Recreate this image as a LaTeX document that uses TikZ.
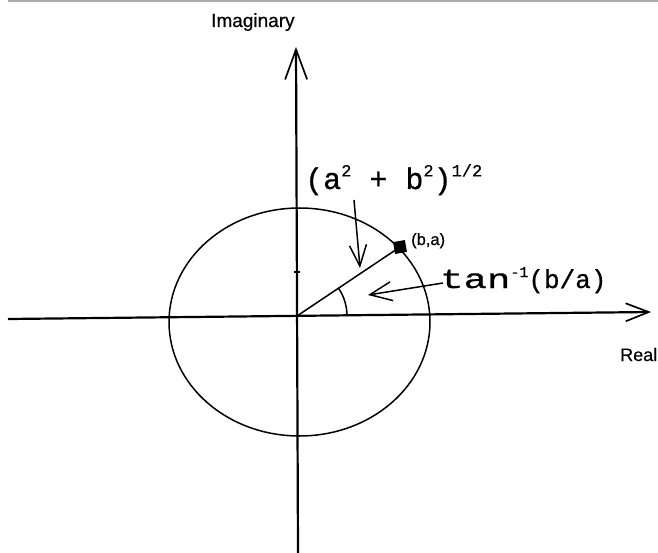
\documentclass[tikz,border=0pt]{standalone}
\usepackage{fontspec}
\setmainfont{Liberation Sans}
\newfontfamily\monofont[FakeBold=0.7]{Liberation Mono}
\newfontfamily\pixsans[FakeBold=0.5]{Liberation Sans}
\usetikzlibrary{arrows.meta}
\newcommand\supx[2][17]{\raisebox{0.42em}{\fontsize{#1}{#1}\selectfont #2}}
\begin{document}
\begin{tikzpicture}[x=1pt,y=-1pt,
  axisline/.style={line width=2.2pt},
  thinline/.style={line width=1.5pt},
  sanslabel/.style={inner sep=0pt, anchor=base west},
  monolabel/.style={inner sep=0pt, anchor=base west}]
\useasboundingbox (0,0) rectangle (658,553);
\fill[white] (0,0) rectangle (658,553);
% top border line
\draw[gray!65, line width=2pt] (8,1) -- (658,1);
% coordinates
\coordinate (O) at (297,316);
\coordinate (xl) at (8,319);
\coordinate (xr) at (651,312);
\coordinate (yb) at (298,553);
\coordinate (yt) at (296,47);
\coordinate (C) at (299.5,322);
% axes
\draw[axisline, -{Straight Barb[length=23pt,width=18pt,line width=1.7pt]}] (xl) -- (xr);
\draw[axisline, -{Straight Barb[length=30pt,width=22pt,line width=1.7pt]}] (yb) -- (yt);
% tick
\draw[line width=1.5pt] (294,272) -- (300,272);
% circle
\draw[thinline] (C) ellipse [x radius=130.5, y radius=114];
% point
\node[fill=black, minimum size=12pt, inner sep=0pt, rotate=10] (pt) at (400,247) {};
% radius
\draw[thinline] (O) -- (pt.center);
% angle arc
\draw[thinline] ([shift={(0:50)}]O) arc [start angle=0, end angle=-33.8, radius=50];
% labels
\node[sanslabel, font=\pixsans\fontsize{19}{19}\selectfont] (imlabel) at (211,27) {Imaginary};
\node[sanslabel, font=\pixsans\fontsize{18}{18}\selectfont] (relabel) at (620,361) {Real};
\node[sanslabel, font=\pixsans\fontsize{16.5}{16.5}\selectfont] (ptlabel) at (411,245) {(b,a)};
\node[monolabel, font=\monofont\fontsize{30}{30}\selectfont] (modlabel) at (305,189) {(a\supx{2} + b\supx{2})\supx{1/2}};
\node[monolabel, font=\monofont\fontsize{26}{26}\selectfont] (tanlabel) at (440,288) {\scalebox{1.5}[1.05]{tan}\supx[15]{-1}(b/a)};
% pointer arrows
\coordinate (m0) at (354,200);
\coordinate (mtip) at (360,268);
\coordinate (t0) at (443,283);
\coordinate (ttip) at (368,295);
\draw[thinline, -{Straight Barb[length=21pt,width=17pt,line width=1.5pt]}] (m0) -- (mtip);
\draw[thinline, -{Straight Barb[length=22pt,width=19pt,line width=1.5pt]}] (t0) -- (ttip);
\end{tikzpicture}
\end{document}
